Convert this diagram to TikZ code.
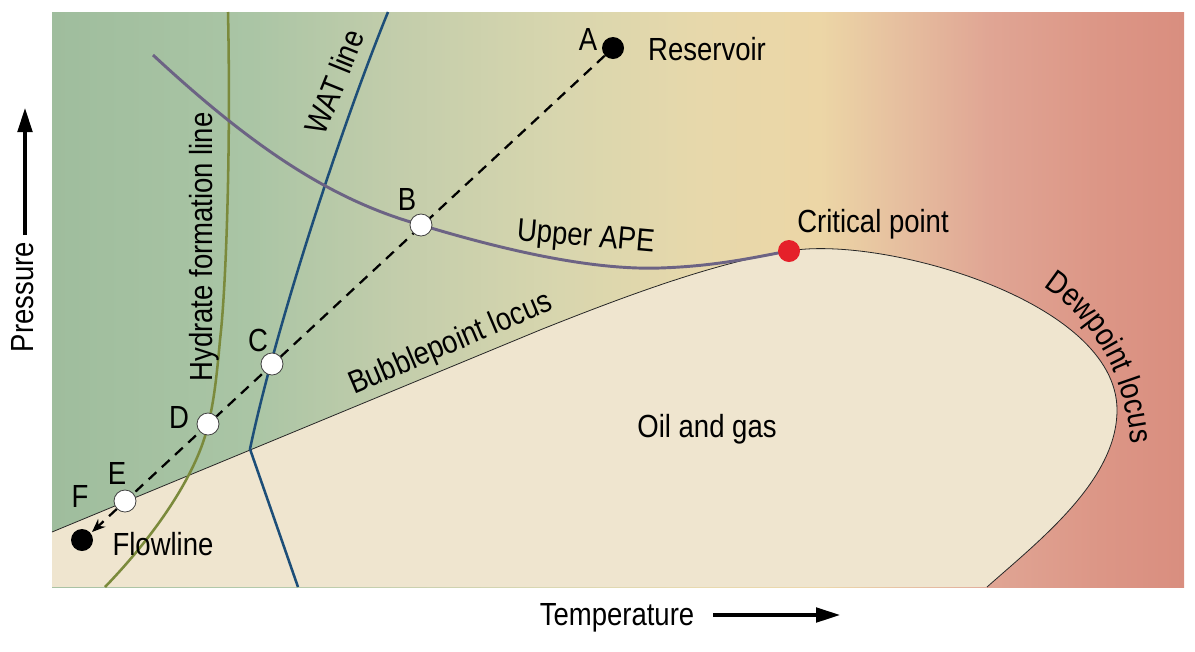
\documentclass[tikz,border=0pt]{standalone}
\usepackage{fontspec}
\setmainfont{Liberation Sans}[FakeStretch=0.86]
\usepackage{xcolor}
\usetikzlibrary{arrows.meta,decorations.text}

\definecolor{bgA}{HTML}{9FBD9D}
\definecolor{bgB}{HTML}{AAC5A5}
\definecolor{bgC}{HTML}{C3CDAB}
\definecolor{bgD}{HTML}{D8D6AE}
\definecolor{bgE}{HTML}{E7D8AB}
\definecolor{bgF}{HTML}{ECD6A6}
\definecolor{bgG}{HTML}{E6BF9F}
\definecolor{bgH}{HTML}{E0A594}
\definecolor{bgI}{HTML}{DC9686}
\definecolor{bgJ}{HTML}{D98E7F}
\definecolor{twophasefill}{HTML}{EFE5CF}
\definecolor{apecol}{HTML}{6C6384}
\definecolor{hydcol}{HTML}{7B8A3C}
\definecolor{watcol}{HTML}{1D4E78}
\definecolor{critcol}{HTML}{E5202A}

\pgfdeclarehorizontalshading{phaseshade}{100bp}{%
  color(0bp)=(bgA); color(25bp)=(bgA); color(33.75bp)=(bgB);
  color(40.37bp)=(bgC); color(47.44bp)=(bgD); color(53.62bp)=(bgE);
  color(58.92bp)=(bgF); color(62.46bp)=(bgG); color(66.43bp)=(bgH);
  color(71.29bp)=(bgI); color(75bp)=(bgJ); color(100bp)=(bgJ)}

\newcommand{\lblfont}{\fontsize{24}{28}\selectfont}

\begin{document}
\begin{tikzpicture}[
  x=0.75pt, y=-0.75pt,
  font=\lblfont,
  lbl/.style={inner sep=0pt, anchor=base},
  twophase/.style={fill=twophasefill},
  envelope/.style={draw=black!85, line width=0.6pt},
  hydrate/.style={draw=hydcol, line width=1.9pt},
  wat/.style={draw=watcol, line width=1.9pt},
  ape/.style={draw=apecol, line width=2.2pt},
  flowpath/.style={line width=1.7pt, dash pattern=on 7.9pt off 5.6pt,
                   -{Stealth[length=10pt, width=8pt]}},
  blackdot/.style={circle, fill=black, minimum size=16.5pt, inner sep=0pt},
  whitedot/.style={circle, draw=black!75, line width=0.6pt, fill=white,
                   minimum size=16.5pt, inner sep=0pt},
  critdot/.style={circle, fill=critcol, minimum size=16.5pt, inner sep=0pt},
  axisarr/.style={line width=2.3pt, -{Triangle[length=18pt, width=11pt]}}
]
\useasboundingbox (0,0) rectangle (1195,651);
% --- background and two-phase envelope ---------------------------------
\shade[shading=phaseshade] (52,12) rectangle (1184,587);
\fill[twophase] (52,532) -- (540,330) .. controls (640,290) and (720,262) .. (789,251)
  .. controls (880,235) and (1117,300) .. (1117,410)
  .. controls (1117,480) and (1040,540) .. (987,587) -- (52,587) -- cycle;
\draw[envelope] (52,532) -- (540,330) .. controls (640,290) and (720,262) .. (789,251)
  .. controls (880,235) and (1117,300) .. (1117,410)
  .. controls (1117,480) and (1040,540) .. (987,587);
% --- phase lines -------------------------------------------------------
\draw[hydrate] (228,12) .. controls (231,150) and (226,290) .. (220,340)
  .. controls (216,385) and (213,405) .. (208,425)
  .. controls (198,470) and (160,530) .. (105,587);
\draw[wat] (388,12) .. controls (340,130) and (275,330) .. (250,449) -- (298,587);
\draw[ape] (153,55) .. controls (250,145) and (330,200) .. (421,225)
  .. controls (520,255) and (600,270) .. (660,268)
  .. controls (720,266) and (760,256) .. (789,251);
% --- production path ---------------------------------------------------
\node[blackdot] (A) at (613,48) {};
\node[blackdot] (F) at (82,540) {};
\coordinate (tip) at (92,532);
\draw[flowpath] (A) -- (tip);
\node[whitedot] (B) at (421,225) {};
\node[whitedot] (C) at (272,364) {};
\node[whitedot] (D) at (208,424) {};
\node[whitedot] (E) at (125,501) {};
\node[critdot]  (crit) at (789,251) {};
% --- labels ------------------------------------------------------------
\node[lbl] (labA) at (588,50)  {A};
\node[lbl] (labB) at (407,210) {B};
\node[lbl] (labC) at (258,351) {C};
\node[lbl] (labD) at (179,428) {D};
\node[lbl] (labE) at (117,484) {E};
\node[lbl] (labF) at (80,507)  {F};
\node[lbl] (res)  at (707,60)  {Reservoir};
\node[lbl] (flow) at (163,555) {Flowline};
\node[lbl] (critlab) at (873,232) {Critical point};
\node[lbl] (oil)  at (707,437) {Oil and gas};
\node[lbl, rotate=-5] (upape) at (585,246) {Upper APE};
\node[lbl, rotate=90] (hydlab) at (212,247) {Hydrate formation line};
\node[lbl, rotate=68] (watlab) at (345,86) {WAT line};
\node[lbl, rotate=23] (bublab) at (454,352) {Bubblepoint locus};
\path[decorate, decoration={text along path, text align=center,
  text={|\lblfont|Dewpoint locus}}]
  (1020,274) .. controls (1095,310) and (1132,380) .. (1132,470);
% --- axes --------------------------------------------------------------
\node[lbl, rotate=90] (press) at (33,297) {Pressure};
\node[lbl] (temp) at (617,625) {Temperature};
\coordinate (pbot) at (25,235);
\coordinate (ptop) at (25,108);
\coordinate (tleft) at (713,615);
\coordinate (tright) at (840,615);
\draw[axisarr] (pbot) -- (ptop);
\draw[axisarr] (tleft) -- (tright);
\end{tikzpicture}
\end{document}
